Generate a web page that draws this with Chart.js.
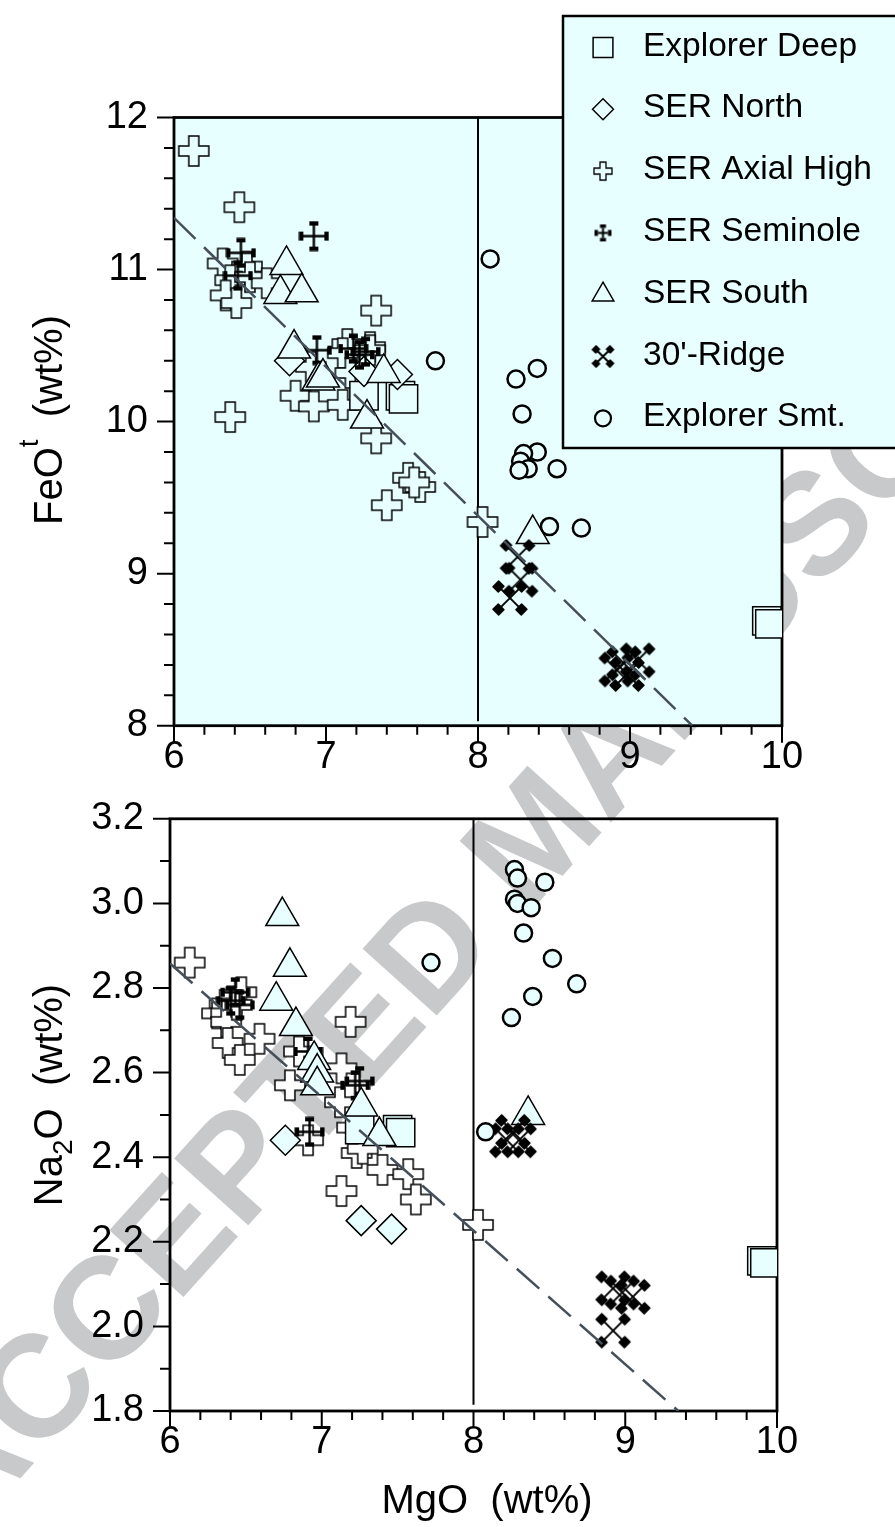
<!DOCTYPE html>
<html>
<head>
<meta charset="utf-8">
<title>FeOt and Na2O vs MgO</title>
<script src="https://cdn.jsdelivr.net/npm/chart.js@4.4.1/dist/chart.umd.min.js"></script>
<style>
  html, body { margin: 0; padding: 0; background: #ffffff; }
  #page { position: relative; width: 895px; height: 1527px; overflow: hidden; }
  #page canvas { position: absolute; left: 0; }
</style>
</head>
<body>
<div id="page">
  <canvas id="watermark" width="895" height="1527" style="top:0"></canvas>
  <canvas id="feoChart" width="895" height="790" style="top:0"></canvas>
  <canvas id="naChart" width="895" height="757" style="top:770px"></canvas>
</div>
<script>
// ---- axes ----
const mgoTicks = [6, 7, 8, 9, 10];
const feoTicks = [8, 9, 10, 11, 12];
const naTicks = [1.8, 2.0, 2.2, 2.4, 2.6, 2.8, 3.0, 3.2];
const naTickLabels = ['1.8', '2.0', '2.2', '2.4', '2.6', '2.8', '3.0', '3.2'];

const seriesNames = ['Explorer Deep', 'SER North', 'SER Axial High', 'SER Seminole', 'SER South', "30'-Ridge", 'Explorer Smt.'];

// ---- upper panel: FeOt vs MgO ----
const deepMgoA = [7.25, 7.49, 7.51, 9.90, 9.92];
const deepFeo = [10.17, 10.17, 10.15, 8.69, 8.67];
const northMgoA = [6.76, 7.25, 7.47];
const northFeo = [10.40, 10.33, 10.31];
const axialMgoA = [6.13, 6.43, 6.32, 6.48, 6.37, 6.50, 6.34, 6.41, 6.61, 7.33, 7.14, 7.29, 7.11,
                   7.29, 7.16, 6.80, 6.92, 7.11, 6.37, 7.33, 7.54, 7.62, 7.58, 7.40, 8.03, 6.90];
const axialFeo = [11.78, 11.41, 11.04, 11.02, 10.93, 10.95, 10.83, 10.78, 10.91, 10.73, 10.51, 10.49, 10.45,
                  10.47, 10.32, 10.17, 10.10, 10.11, 10.03, 9.89, 9.63, 9.57, 9.60, 9.45, 9.34, 10.36];
const seminoleMgoA = [6.44, 6.42, 6.92, 6.94, 7.18, 7.22, 7.26];
const seminoleFeo = [11.11, 10.96, 11.22, 10.47, 10.48, 10.44, 10.46];
const southMgoA = [6.74, 6.70, 6.84, 6.79, 6.95, 6.98, 7.38, 7.27, 8.36];
const southFeo = [11.03, 10.84, 10.85, 10.48, 10.27, 10.29, 10.32, 10.02, 9.26];
const ridgeMgoA = [8.26, 8.28, 8.21, 8.96, 9.05, 8.91, 8.98];
const ridgeFeo = [9.11, 8.96, 8.84, 8.41, 8.43, 8.37, 8.34];
const smtMgoA = [8.08, 8.39, 8.25, 8.29, 8.39, 8.30, 8.28, 8.33, 8.27, 8.52, 8.47, 8.68, 7.72];
const smtFeo = [11.07, 10.35, 10.28, 10.05, 9.80, 9.79, 9.74, 9.69, 9.68, 9.69, 9.31, 9.30, 10.40];
const feoTrendMgo = [6, 9.41];
const feoTrend = [11.34, 8.0];
const feoSplitMgo = [8, 8];
const feoSplit = [8.03, 12];

// ---- lower panel: Na2O vs MgO ----
const deepMgoB = [7.25, 7.50, 7.52, 9.90, 9.92];
const deepNa = [2.465, 2.465, 2.458, 2.155, 2.150];
const northMgoB = [6.76, 7.26, 7.46];
const northNa = [2.44, 2.25, 2.23];
const axialMgoB = [6.13, 6.47, 6.36, 6.31, 6.37, 6.37, 6.44, 6.59, 6.38, 6.46, 7.19, 6.79,
                   7.13, 6.85, 7.13, 7.40, 7.57, 7.62, 7.23, 7.27, 6.91, 8.03, 7.12, 7.20];
const axialNa = [2.86, 2.79, 2.76, 2.74, 2.74, 2.72, 2.76, 2.68, 2.67, 2.63, 2.72, 2.57,
                 2.61, 2.65, 2.32, 2.37, 2.36, 2.30, 2.41, 2.42, 2.44, 2.24, 2.53, 2.47];
const seminoleMgoB = [6.40, 6.43, 6.46, 6.91, 7.22, 6.92, 7.25];
const seminoleNa = [2.77, 2.79, 2.76, 2.65, 2.57, 2.46, 2.58];
const southMgoB = [6.74, 6.79, 6.70, 6.83, 6.95, 6.97, 6.97, 7.26, 7.38, 8.36];
const southNa = [2.97, 2.85, 2.77, 2.71, 2.63, 2.60, 2.57, 2.52, 2.45, 2.50];
const ridgeMgoB = [8.92, 8.98, 9.05, 8.92, 8.22, 8.26, 8.30];
const ridgeNa = [2.09, 2.08, 2.07, 1.99, 2.44, 2.46, 2.44];
const smtMgoB = [8.27, 8.29, 8.47, 8.27, 8.29, 8.38, 8.33, 8.52, 8.68, 8.39, 8.25, 7.72, 8.08];
const smtNa = [3.08, 3.06, 3.05, 3.01, 3.00, 2.99, 2.93, 2.87, 2.81, 2.78, 2.73, 2.86, 2.46];
const naTrendMgo = [6, 9.35];
const naTrend = [2.858, 1.8];
const naSplitMgo = [8, 8];
const naSplit = [1.815, 3.2];

const CYAN = '#e8ffff';
const FONT = '"Liberation Sans", Arial, Helvetica, sans-serif';
const TICK_SIZE = 38;
const TITLE_SIZE = 40;

function pts(xs, ys) {
    return xs.map((x, i) => ({ x: x, y: ys[i] }));
}

// outlined greek cross (SER Axial High)
function crossMark(size, fill, lw) {
    const c = document.createElement('canvas');
    c.width = c.height = Math.ceil(size + 4);
    const g = c.getContext('2d');
    const m = c.width / 2, h = size / 2, a = size / 6;
    g.beginPath();
    g.moveTo(m - a, m - h); g.lineTo(m + a, m - h); g.lineTo(m + a, m - a); g.lineTo(m + h, m - a);
    g.lineTo(m + h, m + a); g.lineTo(m + a, m + a); g.lineTo(m + a, m + h); g.lineTo(m - a, m + h);
    g.lineTo(m - a, m + a); g.lineTo(m - h, m + a); g.lineTo(m - h, m - a); g.lineTo(m - a, m - a);
    g.closePath();
    g.fillStyle = fill;
    g.fill();
    g.lineWidth = lw;
    g.strokeStyle = '#000';
    g.stroke();
    return c;
}

// thin cross with bar ends (SER Seminole), also used rotated for 30'-Ridge
function barCross(size, angle, capL, capT, lw, round) {
    const c = document.createElement('canvas');
    c.width = c.height = Math.ceil(size * 0.75 + 8);
    const g = c.getContext('2d');
    const m = c.width / 2, h = size / 2;
    g.translate(m, m);
    g.rotate(angle);
    g.strokeStyle = '#000';
    g.fillStyle = '#000';
    g.lineWidth = lw;
    g.beginPath();
    g.moveTo(-h + capT, 0); g.lineTo(h - capT, 0);
    g.moveTo(0, -h + capT); g.lineTo(0, h - capT);
    g.stroke();
    g.lineJoin = 'round';
    g.lineWidth = round;
    const caps = [[-capL / 2, -h, capL, capT], [-capL / 2, h - capT, capL, capT],
                  [-h, -capL / 2, capT, capL], [h - capT, -capL / 2, capT, capL]];
    caps.forEach(r => {
        g.fillRect(r[0], r[1], r[2], r[3]);
        if (round) g.strokeRect(r[0], r[1], r[2], r[3]);
    });
    return c;
}

function drawTitle(ctx, parts, x, y, rotate, size) {
    ctx.save();
    ctx.fillStyle = '#000';
    ctx.textBaseline = 'alphabetic';
    ctx.textAlign = 'left';
    const widths = parts.map(p => {
        ctx.font = (p.small ? size * 0.7 : size) + 'px ' + FONT;
        return ctx.measureText(p.t).width;
    });
    const total = widths.reduce((s, w) => s + w, 0);
    ctx.translate(x, y);
    if (rotate) ctx.rotate(-Math.PI / 2);
    let pos = -total / 2;
    parts.forEach((p, i) => {
        ctx.font = (p.small ? size * 0.7 : size) + 'px ' + FONT;
        ctx.fillText(p.t, pos, (p.shift || 0) * size);
        pos += widths[i];
    });
    ctx.restore();
}

const legendItems = [
    { style: 'rect', r: 14, fill: CYAN, lw: 1.5 },
    { style: 'rectRot', r: 10.5, fill: CYAN, lw: 1.5 },
    { style: crossMark(18, CYAN, 1.3), r: 9 },
    { style: barCross(17, 0, 6, 3.5, 2, 0), r: 9 },
    { style: 'triangle', r: 12.5, fill: CYAN, lw: 1.5 },
    { style: barCross(25, Math.PI / 4, 5.5, 5, 2, 1.2), r: 9 },
    { style: 'circle', r: 8, fill: CYAN, lw: 2.2 }
];

function drawLegend(ctx) {
    ctx.save();
    ctx.fillStyle = CYAN;
    ctx.fillRect(563, 16, 340, 432);
    ctx.lineWidth = 2.5;
    ctx.strokeStyle = '#000';
    ctx.strokeRect(563, 16, 340, 432);
    ctx.font = '33.5px ' + FONT;
    ctx.textBaseline = 'alphabetic';
    seriesNames.forEach((name, i) => {
        const y = 43.5 + i * 61.8;
        const it = legendItems[i];
        ctx.fillStyle = it.fill || '#000';
        ctx.strokeStyle = '#000';
        ctx.lineWidth = it.lw || 1;
        Chart.helpers.drawPoint(ctx, { pointStyle: it.style, rotation: 0, radius: it.r, borderWidth: it.lw || 0 }, 603, y + 4);
        ctx.fillStyle = '#000';
        ctx.fillText(name, 643, y + 12);
    });
    ctx.restore();
}

function makeDeco(cfg) {
    return {
        id: 'panelDeco',
        beforeDraw(chart) {
            if (!cfg.bg) return;
            const { ctx, chartArea: a } = chart;
            ctx.save();
            ctx.fillStyle = cfg.bg;
            ctx.fillRect(a.left, a.top, a.right - a.left, a.bottom - a.top);
            ctx.restore();
        },
        beforeDatasetsDraw(chart) {
            const { ctx, chartArea: a } = chart;
            const x = chart.scales.x, y = chart.scales.y;
            ctx.save();
            ctx.strokeStyle = '#000';
            ctx.lineWidth = 2;
            ctx.beginPath();
            const nx = Math.round((x.max - x.min) / cfg.xMinor);
            for (let i = 0; i <= nx; i++) {
                const px = x.getPixelForValue(x.min + i * cfg.xMinor);
                const len = i % cfg.xEvery === 0 ? 17 : 9;
                ctx.moveTo(px, a.bottom);
                ctx.lineTo(px, a.bottom + len);
            }
            const ny = Math.round((y.max - y.min) / cfg.yMinor);
            for (let i = 0; i <= ny; i++) {
                const py = y.getPixelForValue(y.min + i * cfg.yMinor);
                const len = i % cfg.yEvery === 0 ? 17 : 10;
                ctx.moveTo(a.left, py);
                ctx.lineTo(a.left - len, py);
            }
            ctx.stroke();
            ctx.lineWidth = 2.8;
            ctx.strokeRect(a.left, a.top, a.right - a.left, a.bottom - a.top);
            ctx.restore();
        },
        afterDraw(chart) {
            const ctx = chart.ctx;
            cfg.titles.forEach(t => drawTitle(ctx, t.parts, t.x, t.y, t.rotate, TITLE_SIZE));
            if (cfg.legend) drawLegend(ctx);
        }
    };
}

function datasets(d, crossFill) {
    return [
        { type: 'line', data: d.trend, showLine: true, borderColor: '#46505b', borderWidth: 2.5,
          borderDash: [30, 12], pointRadius: 0, fill: false, order: 0 },
        { label: seriesNames[6], data: d.smt, pointStyle: 'circle', pointRadius: 8.5, pointBorderWidth: 2.5,
          pointBackgroundColor: CYAN, pointBorderColor: '#000', order: 1 },
        { label: seriesNames[5], data: d.ridge, pointStyle: barCross(40, Math.PI / 4, 8, 7.5, 2, 1.5), pointRadius: 15, order: 2 },
        { label: seriesNames[4], data: d.south, pointStyle: 'triangle', pointRadius: 19, pointBorderWidth: 1.5,
          pointBackgroundColor: CYAN, pointBorderColor: '#000', order: 3 },
        { label: seriesNames[3], data: d.seminole, pointStyle: barCross(30, 0, 9, 4.5, 2.4, 0), pointRadius: 15, order: 4 },
        { label: seriesNames[1], data: d.north, pointStyle: 'rectRot', pointRadius: 15, pointBorderWidth: 1.5,
          pointBackgroundColor: CYAN, pointBorderColor: '#000', order: 5 },
        { label: seriesNames[0], data: d.deep, pointStyle: 'rect', pointRadius: 20, pointBorderWidth: 1.5,
          pointBackgroundColor: CYAN, pointBorderColor: '#000', order: 6 },
        { label: seriesNames[2], data: d.axial, pointStyle: crossMark(30, crossFill, 1.5), pointRadius: 15, order: 7 },
        { type: 'line', data: d.split, showLine: true, borderColor: '#000', borderWidth: 2,
          pointRadius: 0, fill: false, order: 8 }
    ];
}

function makeChart(id, d, opt) {
    return new Chart(document.getElementById(id), {
        type: 'scatter',
        data: { datasets: datasets(d, opt.crossFill) },
        options: {
            responsive: false,
            animation: false,
            events: [],
            layout: { padding: opt.padding },
            plugins: { legend: { display: false }, tooltip: { enabled: false } },
            scales: {
                x: {
                    type: 'linear', min: 6, max: 10,
                    afterBuildTicks: s => { s.ticks = mgoTicks.map(v => ({ value: v })); },
                    afterFit: s => { s.height = opt.xHeight; },
                    grid: { display: false, drawTicks: false },
                    border: { display: false },
                    ticks: { padding: 9, color: '#000', maxRotation: 0, autoSkip: false,
                             font: { family: FONT, size: TICK_SIZE }, callback: v => String(v) }
                },
                y: {
                    type: 'linear', min: opt.yMin, max: opt.yMax,
                    afterBuildTicks: s => { s.ticks = opt.yTicks.map(v => ({ value: v })); },
                    afterFit: s => { s.width = opt.yWidth; },
                    grid: { display: false, drawTicks: false },
                    border: { display: false },
                    ticks: { padding: 26, color: '#000', autoSkip: false,
                             font: { family: FONT, size: TICK_SIZE }, callback: (v, i) => opt.yLabels[i] }
                }
            }
        },
        plugins: [makeDeco(opt.deco)]
    });
}

// watermark behind both panels
const wm = document.getElementById('watermark').getContext('2d');
wm.save();
wm.translate(-63, 1511);
wm.rotate(-48 * Math.PI / 180);
wm.font = 'bold 145px ' + FONT;
wm.fillStyle = '#c8c9ca';
wm.textBaseline = 'middle';
wm.fillText('ACCEPTED MANUSCRIPT', 0, 0);
wm.restore();

makeChart('feoChart', {
    trend: pts(feoTrendMgo, feoTrend),
    split: pts(feoSplitMgo, feoSplit),
    deep: pts(deepMgoA, deepFeo),
    north: pts(northMgoA, northFeo),
    axial: pts(axialMgoA, axialFeo),
    seminole: pts(seminoleMgoA, seminoleFeo),
    south: pts(southMgoA, southFeo),
    ridge: pts(ridgeMgoA, ridgeFeo),
    smt: pts(smtMgoA, smtFeo)
}, {
    crossFill: CYAN,
    padding: { top: 117.5, right: 113, left: 0, bottom: 0 },
    xHeight: 64.3, yWidth: 174,
    yMin: 8, yMax: 12, yTicks: feoTicks, yLabels: feoTicks.map(String),
    deco: {
        bg: CYAN, xMinor: 0.2, xEvery: 5, yMinor: 0.2, yEvery: 5, legend: true,
        titles: [{ parts: [{ t: 'FeO' }, { t: 't', small: true, shift: -0.6 }, { t: '  (wt%)' }], x: 62, y: 420, rotate: true }]
    }
});

makeChart('naChart', {
    trend: pts(naTrendMgo, naTrend),
    split: pts(naSplitMgo, naSplit),
    deep: pts(deepMgoB, deepNa),
    north: pts(northMgoB, northNa),
    axial: pts(axialMgoB, axialNa),
    seminole: pts(seminoleMgoB, seminoleNa),
    south: pts(southMgoB, southNa),
    ridge: pts(ridgeMgoB, ridgeNa),
    smt: pts(smtMgoB, smtNa)
}, {
    crossFill: '#ffffff',
    padding: { top: 32.5, right: 118, left: 0, bottom: 0 },
    xHeight: 116, yWidth: 170,
    yMin: 1.8, yMax: 3.2, yTicks: naTicks, yLabels: naTickLabels,
    deco: {
        bg: null, xMinor: 0.2, xEvery: 5, yMinor: 0.1, yEvery: 2, legend: false,
        titles: [
            { parts: [{ t: 'Na' }, { t: '2', small: true, shift: 0.25 }, { t: 'O  (wt%)' }], x: 62, y: 325, rotate: true },
            { parts: [{ t: 'MgO  (wt%)' }], x: 487, y: 743, rotate: false }
        ]
    }
});
</script>
</body>
</html>
